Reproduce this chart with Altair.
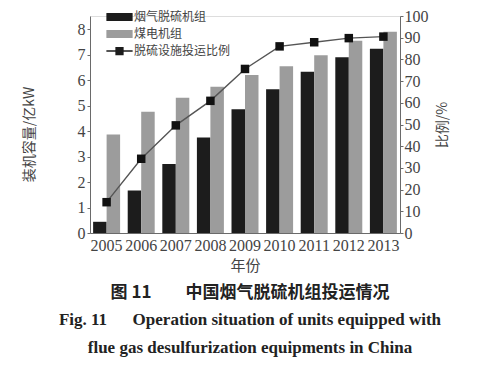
import altair as alt
import pandas as pd

years = ["2005", "2006", "2007", "2008", "2009", "2010", "2011", "2012", "2013"]
fgd_capacity = [0.44, 1.67, 2.71, 3.75, 4.86, 5.64, 6.33, 6.90, 7.23]
coal_capacity = [3.87, 4.76, 5.31, 5.74, 6.20, 6.55, 6.98, 7.55, 7.90]
fgd_ratio = [14.2, 34.2, 49.6, 60.9, 75.6, 86.0, 87.9, 89.8, 90.5]

series_names = ["烟气脱硫机组", "煤电机组", "脱硫设施投运比例"]
series_colors = ["#1c1c1c", "#9c9c9c", "#1c1c1c"]
legend_shapes = [
    "M-1.75,-0.53H1.75V0.53H-1.75Z",
    "M-1.75,-0.53H1.75V0.53H-1.75Z",
    "M-1.75,-0.09H1.75V0.09H-1.75Z M-0.55,-0.55H0.55V0.55H-0.55Z",
]

left_ticks = list(range(0, 9))
right_ticks = list(range(0, 101, 10))

bars_df = pd.DataFrame(
    [{"year": y, "series": series_names[0], "value": v} for y, v in zip(years, fgd_capacity)]
    + [{"year": y, "series": series_names[1], "value": v} for y, v in zip(years, coal_capacity)]
)
ratio_df = pd.DataFrame({"year": years, "ratio": fgd_ratio})
legend_data = alt.InlineData(values=[{"series": s, "ratio": None} for s in series_names])

label_font = "Liberation Serif"
cjk_font = "Noto Sans CJK SC"
axis_color = "#6a6a6a"
text_color = "#444444"

legend_cfg = alt.Legend(
    title=None,
    orient="none",
    legendX=22,
    legendY=-6.5,
    padding=0,
    rowPadding=3,
    symbolSize=225,
    symbolStrokeWidth=0,
    symbolOpacity=1,
    labelOffset=7,
    labelFont=cjk_font,
    labelFontSize=12,
    labelColor=text_color,
)

x_enc = alt.X(
    "year:N",
    sort=years,
    scale=alt.Scale(paddingInner=0.22, paddingOuter=0.09),
    axis=alt.Axis(
        title="年份",
        labelAngle=0,
        ticks=False,
        tickSize=0,
        labelPadding=4,
        titlePadding=5,
        labelFont=label_font,
        labelFontSize=16,
        labelColor=text_color,
        titleFont=cjk_font,
        titleFontSize=15,
        titleFontWeight="normal",
        titleColor=text_color,
        domainColor=axis_color,
        grid=False,
    ),
)

color_scale = alt.Scale(domain=series_names, range=series_colors)
shape_scale = alt.Scale(domain=series_names, range=legend_shapes)

bars = alt.Chart(bars_df).mark_bar().encode(
    x=x_enc,
    xOffset=alt.XOffset("series:N", sort=series_names[:2], scale=alt.Scale(domain=series_names[:2], paddingInner=0, paddingOuter=0)),
    y=alt.Y(
        "value:Q",
        scale=alt.Scale(domain=[0, 8.52], nice=False),
        axis=alt.Axis(
            title="装机容量/亿kW",
            values=left_ticks,
            orient="left",
            grid=False,
            tickSize=3,
            labelPadding=2,
            titlePadding=41,
            titleY=118,
            labelOverlap=False,
            labelFont=label_font,
            labelFontSize=16,
            labelColor=text_color,
            titleFont=cjk_font,
            titleFontSize=14,
            titleFontWeight="normal",
            titleColor=text_color,
            domainColor=axis_color,
            tickColor=axis_color,
        ),
    ),
    color=alt.Color("series:N", scale=color_scale, legend=legend_cfg),
)

right_axis = alt.Axis(
    title="比例/%",
    values=right_ticks,
    orient="right",
    grid=False,
    tickSize=3,
    labelPadding=1,
    titlePadding=7,
    titleAngle=270,
    titleBaseline="top",
    labelOverlap=False,
    labelFont=label_font,
    labelFontSize=16,
    labelColor=text_color,
    titleFont=cjk_font,
    titleFontSize=14,
    titleFontWeight="normal",
    titleColor=text_color,
    domainColor=axis_color,
    tickColor=axis_color,
)
right_scale = alt.Scale(domain=[0, 100], nice=False)


def y_right():
    return alt.Y("ratio:Q", scale=right_scale, axis=right_axis)


line = alt.Chart(ratio_df).mark_line(color="#555555", strokeWidth=1.4).encode(
    x=alt.X("year:N", sort=years), y=y_right()
)
points = alt.Chart(ratio_df).mark_point(shape="square", filled=True, size=72, color="#111111", opacity=1).encode(
    x=alt.X("year:N", sort=years), y=y_right()
)

legend_layer = alt.Chart(legend_data).mark_point(filled=True, opacity=1).encode(
    y=y_right(),
    color=alt.Color("series:N", scale=color_scale, legend=legend_cfg),
    shape=alt.Shape("series:N", scale=shape_scale, legend=legend_cfg),
)

right_layer = alt.layer(line, points, legend_layer)

chart = (
    alt.layer(bars, right_layer)
    .resolve_scale(y="independent")
    .properties(
        width=310,
        height=217,
        autosize=alt.AutoSizeParams(type="none"),
        padding={"left": 82, "top": 8, "right": 92, "bottom": 129},
        title=alt.TitleParams(
            text="图 11\u3000\u3000中国烟气脱硫机组投运情况",
            subtitle=[
                "Fig. 11\u2003\u2002Operation situation of units equipped with",
                "flue gas desulfurization equipments in China",
            ],
            orient="bottom",
            anchor="middle",
            frame="group",
            dx=5,
            offset=12,
            font=cjk_font,
            fontSize=17,
            fontWeight="bold",
            color="#222222",
            subtitleFont=label_font,
            subtitleFontSize=17,
            subtitleFontWeight="bold",
            subtitleColor="#222222",
            subtitleLineHeight=28,
            subtitlePadding=10,
        ),
    )
    .configure_view(stroke=None)
    .configure(background="white")
)

chart.save("out.html", embed_options={"renderer": "svg", "actions": False})
